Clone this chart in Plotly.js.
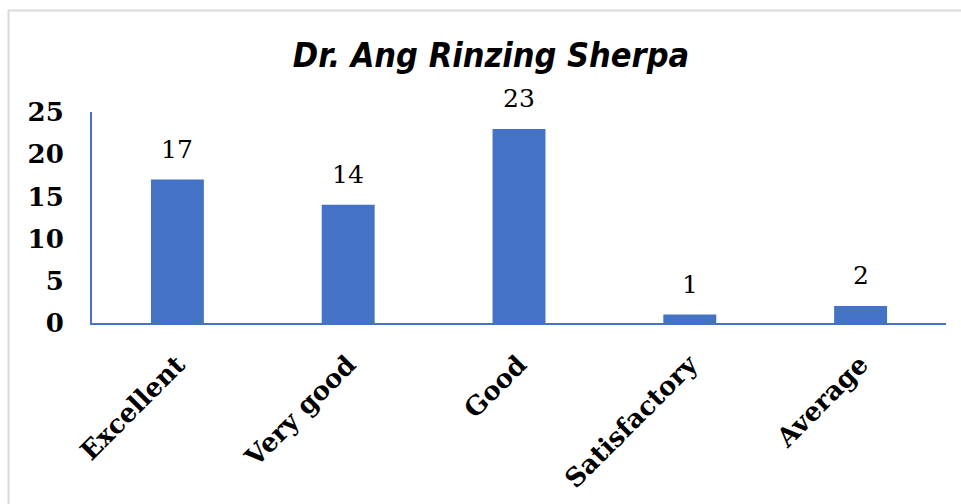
<!DOCTYPE html>
<html>
<head>
<meta charset="utf-8">
<script src="https://cdn.plot.ly/plotly-3.0.1.min.js"></script>
<style>
html,body{margin:0;padding:0;background:#fff;}
#chart{width:961px;height:504px;}
</style>
</head>
<body>
<div id="chart"></div>
<script>
const categories = ["Excellent", "Very good", "Good", "Satisfactory", "Average"];
const values = [17, 14, 23, 1, 2];
const yTickValues = [0, 5, 10, 15, 20, 25];
const titleText = "Dr. Ang Rinzing Sherpa";

const barColor = "#4472C4";
const serif = "'DejaVu Serif', 'Liberation Serif', serif";

const trace = {
  type: "bar",
  x: categories,
  y: values,
  marker: { color: barColor },
  hoverinfo: "none"
};

const annotations = categories.map((c, i) => ({
  x: c, y: values[i], xref: "x", yref: "y",
  text: String(values[i]),
  showarrow: false,
  yanchor: "bottom",
  yshift: 14,
  font: { family: serif, size: 25, color: "#000" }
}));

const W = 961, H = 504, L = 92, R = 15, T = 112, B = 181;
const pw = W - L - R, ph = H - T - B;
const px = v => (v - L) / pw;
const py = v => (H - B - v) / ph;

const layout = {
  width: W, height: H,
  margin: { l: L, r: R, t: T, b: B, pad: 0 },
  paper_bgcolor: "#fff",
  plot_bgcolor: "#fff",
  bargap: 0.69,
  showlegend: false,
  title: {
    text: "<b><i>" + titleText + "</i></b>",
    font: { family: "'DejaVu Sans Condensed', 'DejaVu Sans', sans-serif", size: 34, color: "#000" },
    x: 491 / W, xref: "container", xanchor: "center",
    y: 1 - 55 / H, yref: "container", yanchor: "middle"
  },
  xaxis: {
    type: "category",
    showline: true, linecolor: barColor, linewidth: 2,
    showgrid: false, zeroline: false,
    ticks: "", tickangle: -45, ticklabelstandoff: 14,
    tickfont: { family: serif, size: 26, color: "#000", weight: "bold" }
  },
  yaxis: {
    range: [0, 25],
    tickvals: yTickValues,
    showline: true, linecolor: barColor, linewidth: 2,
    showgrid: false, zeroline: false,
    ticks: "", ticklabelstandoff: 21,
    tickfont: { family: serif, size: 26, color: "#000", weight: "bold" }
  },
  annotations: annotations,
  shapes: [
    { type: "line", xref: "paper", yref: "paper", x0: px(8), x1: px(961), y0: py(10.5), y1: py(10.5), line: { color: "#d9d9d9", width: 2 } },
    { type: "line", xref: "paper", yref: "paper", x0: px(8.5), x1: px(8.5), y0: py(10), y1: py(504), line: { color: "#d9d9d9", width: 2 } }
  ]
};

Plotly.newPlot("chart", [trace], layout, { staticPlot: true, displayModeBar: false });
</script>
</body>
</html>
